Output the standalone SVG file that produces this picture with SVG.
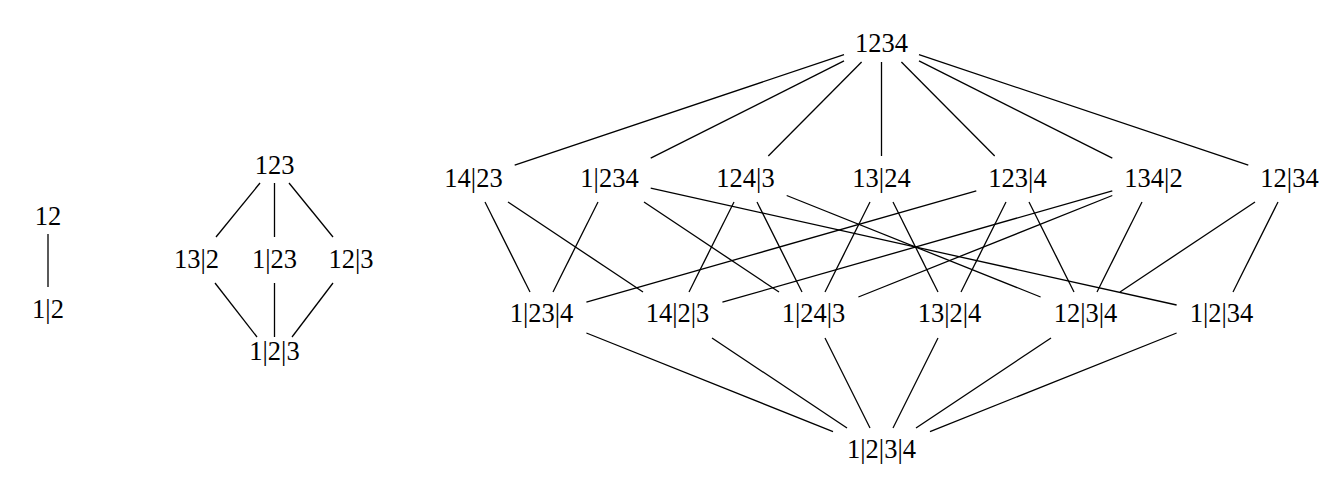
<svg xmlns="http://www.w3.org/2000/svg" width="1338" height="493" viewBox="0 0 1338 493">
<style>
text { font-family: "Liberation Serif", "Times New Roman", serif; font-size: 26.5px; fill: #000; text-anchor: middle; }
.edges line { stroke: #000; stroke-width: 1.3; fill: none; }
</style>
<rect width="1338" height="493" fill="#fff"/>
<g class="edges" id="connectors">
  <!-- Pi_2 -->
  <line x1="48" y1="234" x2="48" y2="287"/>
  <!-- Pi_3 -->
  <line x1="260" y1="183" x2="216" y2="237"/>
  <line x1="274.5" y1="183" x2="274.5" y2="237"/>
  <line x1="289" y1="183" x2="333" y2="237"/>
  <line x1="215" y1="283" x2="257" y2="337"/>
  <line x1="274.5" y1="283" x2="274.5" y2="337"/>
  <line x1="333" y1="283" x2="292" y2="337"/>
  <!-- Pi_4 top to row 2 -->
  <line x1="844" y1="54.6" x2="514.7" y2="165.2"/>
  <line x1="844" y1="60.9" x2="650.7" y2="158.2"/>
  <line x1="861.6" y1="62" x2="768.3" y2="156"/>
  <line x1="881.5" y1="62" x2="881.5" y2="156"/>
  <line x1="901.4" y1="62" x2="994.7" y2="156"/>
  <line x1="919" y1="60.9" x2="1112.3" y2="158.2"/>
  <line x1="919" y1="54.6" x2="1248.3" y2="165.2"/>
  <!-- row 2 to row 3 -->
  <line x1="485" y1="202" x2="530" y2="292"/>
  <line x1="508" y1="202" x2="643" y2="292"/>
  <line x1="598" y1="202" x2="553" y2="292"/>
  <line x1="644" y1="202" x2="779" y2="292"/>
  <line x1="650.7" y1="188.2" x2="1176.6" y2="305"/>
  <line x1="734" y1="202" x2="689" y2="292"/>
  <line x1="757" y1="202" x2="802" y2="292"/>
  <line x1="786.7" y1="195.5" x2="1040.6" y2="297"/>
  <line x1="870" y1="202" x2="825" y2="292"/>
  <line x1="893" y1="202" x2="938" y2="292"/>
  <line x1="976.3" y1="190.8" x2="586.4" y2="302.2"/>
  <line x1="1006" y1="202" x2="961" y2="292"/>
  <line x1="1029" y1="202" x2="1074" y2="292"/>
  <line x1="1112.3" y1="190.8" x2="722.4" y2="302.2"/>
  <line x1="1112.3" y1="195.5" x2="858.4" y2="297"/>
  <line x1="1142" y1="202" x2="1097" y2="292"/>
  <line x1="1255" y1="202" x2="1120" y2="292"/>
  <line x1="1278" y1="202" x2="1233" y2="292"/>
  <!-- row 3 to bottom -->
  <line x1="586.4" y1="333" x2="833" y2="431.6"/>
  <line x1="712" y1="338" x2="847" y2="428"/>
  <line x1="825" y1="338" x2="870" y2="428"/>
  <line x1="938" y1="338" x2="893" y2="428"/>
  <line x1="1051" y1="338" x2="916" y2="428"/>
  <line x1="1176.6" y1="333" x2="930" y2="431.6"/>
</g>
<!-- Pi_2 nodes -->
<g id="p2-12"><text x="48" y="225">12</text></g>
<g id="p2-1-2"><text x="48" y="318">1|2</text></g>
<!-- Pi_3 nodes -->
<g id="p3-123"><text x="274.5" y="174">123</text></g>
<g id="p3-13-2"><text x="196.5" y="268">13|2</text></g>
<g id="p3-1-23"><text x="274.5" y="268">1|23</text></g>
<g id="p3-12-3"><text x="351" y="268">12|3</text></g>
<g id="p3-1-2-3"><text x="274.5" y="360">1|2|3</text></g>
<!-- Pi_4 nodes -->
<g id="p4-1234"><text x="881.5" y="52">1234</text></g>
<g id="p4-14-23"><text x="473.5" y="186.5">14|23</text></g>
<g id="p4-1-234"><text x="609.5" y="186.5">1|234</text></g>
<g id="p4-124-3"><text x="745.5" y="186.5">124|3</text></g>
<g id="p4-13-24"><text x="881.5" y="186.5">13|24</text></g>
<g id="p4-123-4"><text x="1017.5" y="186.5">123|4</text></g>
<g id="p4-134-2"><text x="1153.5" y="186.5">134|2</text></g>
<g id="p4-12-34"><text x="1289.5" y="186.5">12|34</text></g>
<g id="p4-1-23-4"><text x="541.5" y="322">1|23|4</text></g>
<g id="p4-14-2-3"><text x="677.5" y="322">14|2|3</text></g>
<g id="p4-1-24-3"><text x="813.5" y="322">1|24|3</text></g>
<g id="p4-13-2-4"><text x="949.5" y="322">13|2|4</text></g>
<g id="p4-12-3-4"><text x="1085.5" y="322">12|3|4</text></g>
<g id="p4-1-2-34"><text x="1221.5" y="322">1|2|34</text></g>
<g id="p4-1-2-3-4"><text x="881.5" y="458">1|2|3|4</text></g>
</svg>
